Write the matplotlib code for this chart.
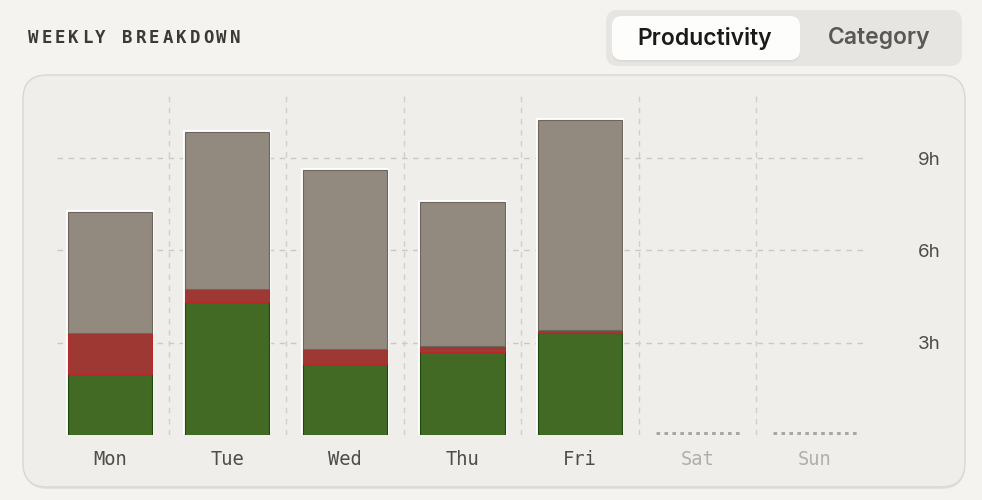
import matplotlib
matplotlib.use("Agg")
import matplotlib.pyplot as plt
from matplotlib.patches import FancyBboxPatch
from matplotlib.transforms import IdentityTransform

# hours per day
days = ['Mon', 'Tue', 'Wed', 'Thu', 'Fri', 'Sat', 'Sun']
focused = [1.98, 4.33, 2.31, 2.71, 3.30, 0, 0]
distracted = [1.32, 0.40, 0.47, 0.18, 0.12, 0, 0]
neutral = [3.95, 5.12, 5.83, 4.68, 6.81, 0, 0]
yticks = [3, 6, 9]
ytick_labels = ['3h', '6h', '9h']
tabs = ['Productivity', 'Category']

W, H = 982, 500
fig = plt.figure(figsize=(W / 100, H / 100), dpi=100)
fig.patch.set_facecolor('#f4f3f0')

def px_box(x0, y0, x1, y1, r, **kw):
    # pixel box, y measured from the top of the image
    p = FancyBboxPatch((x0 + r, H - y1 + r), (x1 - x0) - 2 * r, (y1 - y0) - 2 * r,
                       boxstyle='round,pad=%d' % r, transform=IdentityTransform(), **kw)
    fig.patches.append(p)
    return p

# card (drawn under the axes)
px_box(24, 79, 965, 489, 24, facecolor='#e2e1dc', edgecolor='none', zorder=-3)
px_box(23, 75, 965, 487, 24, facecolor='#efeeea', edgecolor='#d8d7d1', lw=1, zorder=-2)

# segmented control
px_box(606, 10, 962, 66, 12, facecolor='#e6e5e2', edgecolor='none', zorder=-3)
px_box(612, 18, 800, 62, 10, facecolor='#dcdbd7', edgecolor='none', zorder=-2)
px_box(612, 16, 800, 60, 10, facecolor='#fdfdfc', edgecolor='none', zorder=-1)
fig.text(705 / W, 1 - 38 / H, tabs[0], ha='center', va='center', fontsize=16.5,
         fontweight='semibold', family='Inter', color='#1a1a1a')
fig.text(879 / W, 1 - 38 / H, tabs[1], ha='center', va='center', fontsize=16.5,
         fontweight='semibold', family='Inter', color='#5a5853')

# title, spaced out monospace
title = 'WEEKLY BREAKDOWN'
for k, ch in enumerate(title):
    fig.text((28 + k * 13.45) / W, 1 - 38 / H, ch, ha='left', va='center', fontsize=12.5,
             family='DejaVu Sans Mono', fontweight='bold', color='#3a3a38')

ax = fig.add_axes([57 / W, 65 / H, (868 - 57) / W, (435 - 95) / H])
ax.set_facecolor('none')
ax.set_xlim(-0.45, 6.45)
ax.set_ylim(0, 11.05)
for s in ax.spines.values():
    s.set_visible(False)

for y in yticks:
    ax.axhline(y, color='#c9c8c3', lw=1, ls=(0, (4, 4)), zorder=1)
for i in range(len(days) - 1):
    ax.axvline(i + 0.5, color='#d0cfca', lw=1, ls=(0, (4, 4)), zorder=1)

x = list(range(len(days)))
bw = 0.715
totals = [f + d + n for f, d, n in zip(focused, distracted, neutral)]
bottoms2 = [f + d for f, d in zip(focused, distracted)]
has = [t > 0 for t in totals]
xs = [xi for xi, h in zip(x, has) if h]
sel = lambda arr: [v for v, h in zip(arr, has) if h]

# white halo behind each bar
ax.bar(xs, sel(totals), width=bw, color='white', edgecolor='white', lw=3, zorder=2)
ax.bar(xs, sel(focused), width=bw, color='#436a25', edgecolor='#1e4a0e', lw=0.8, zorder=3)
ax.bar(xs, sel(distracted), bottom=sel(focused), width=bw, color='#9e3833',
       edgecolor='#b8262a', lw=0.8, zorder=3)
ax.bar(xs, sel(neutral), bottom=sel(bottoms2), width=bw, color='#938a7f',
       edgecolor='#6e665c', lw=0.8, zorder=3)

# empty days get a dotted baseline
for xi, h in zip(x, has):
    if not h:
        ax.hlines(0.06, xi - bw / 2, xi + bw / 2, color='#a9a7a2', lw=2.2,
                  linestyles=(0, (1.2, 1.4)), zorder=2)

ax.set_xticks(x)
ax.set_xticklabels(days, family='DejaVu Sans Mono', fontsize=13.5)
for lab, h in zip(ax.get_xticklabels(), has):
    lab.set_color('#4e4d4a' if h else '#b0afab')
ax.tick_params(axis='x', length=0, pad=11)

ax.yaxis.tick_right()
ax.set_yticks(yticks)
ax.set_yticklabels(ytick_labels, family='Inter', fontsize=13.5, color='#4e4d4a')
ax.tick_params(axis='y', length=0, pad=36)

fig.savefig('out.png', dpi=100, facecolor=fig.get_facecolor())
